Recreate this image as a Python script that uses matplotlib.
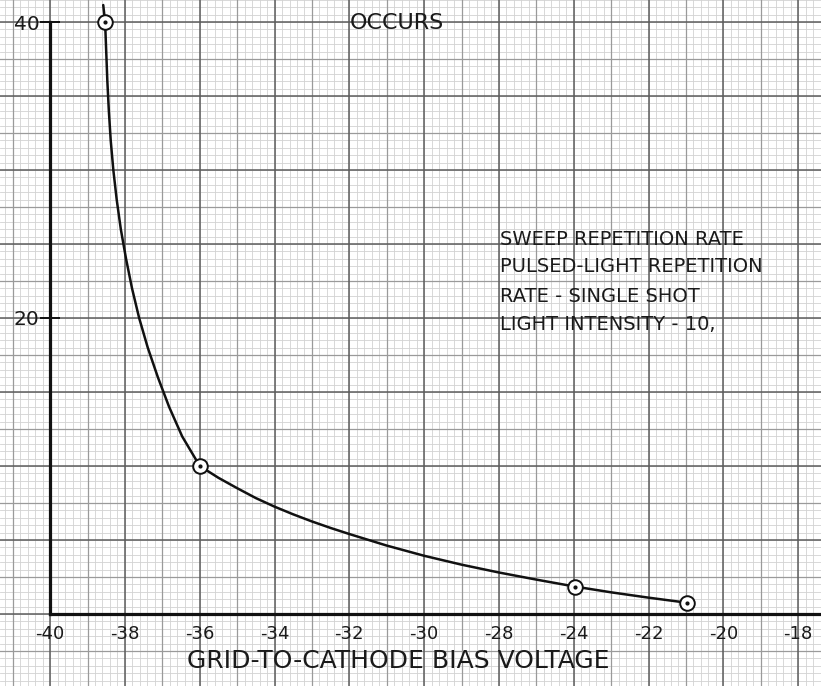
import numpy as np
import matplotlib
matplotlib.use("Agg")
import matplotlib.pyplot as plt

# Traced curve (grid units on the x axis, intensity scale on the y axis)
curve_x = [-38.58, -38.53, -38.50, -38.47, -38.43, -38.38, -38.31, -38.22,
           -38.11, -37.97, -37.81, -37.62, -37.39, -37.12, -36.82, -36.47,
           -36.00, -35.50, -35.00, -34.50, -34.00, -33.50, -33.00, -32.50,
           -32.00, -31.00, -30.00, -29.00, -28.00, -27.00, -25.97, -25.00,
           -24.00, -22.98]
curve_y = [41.15, 40.00, 38.00, 36.00, 34.00, 32.00, 30.00, 28.00,
           26.00, 24.00, 22.00, 20.00, 18.00, 16.00, 14.00, 12.00,
           10.00, 9.20, 8.50, 7.83, 7.25, 6.73, 6.25, 5.81,
           5.40, 4.62, 3.93, 3.33, 2.80, 2.32, 1.85, 1.46,
           1.10, 0.76]

# Measured points (circled)
point_x = [-38.53, -36.00, -25.97, -22.98]
point_y = [40.00, 10.00, 1.85, 0.76]

# Hand-lettered scale on the x axis
xtick_pos = [-40, -38, -36, -34, -32, -30, -28, -26, -24, -22, -20]
xtick_labels = ["-40", "-38", "-36", "-34", "-32", "-30", "-28", "-24", "-22", "-20", "-18"]
ytick_pos = [20, 40]
ytick_labels = ["20", "40"]

note_lines = ["SWEEP REPETITION RATE",
              "PULSED-LIGHT REPETITION",
              "RATE - SINGLE SHOT",
              "LIGHT INTENSITY - 10,"]

XMIN, XMAX = -41.34, -19.39
YMIN, YMAX = -4.87, 41.49

fig = plt.figure(figsize=(8.21, 6.86), dpi=100)
ax = fig.add_axes([0, 0, 1, 1])
ax.set_xlim(XMIN, XMAX)
ax.set_ylim(YMIN, YMAX)

# Graph-paper ruling: fine, half-division and main division lines
fine_col, mid_col, major_col = "#d2d2d2", "#9a9a9a", "#5c5c5c"
for xv in np.arange(-42, -18.9, 0.2):
    ax.axvline(xv, color=fine_col, lw=0.6, zorder=0)
for yv in np.arange(-5, 42.1, 0.5):
    ax.axhline(yv, color=fine_col, lw=0.6, zorder=0)
for xv in np.arange(-41, -18, 2):
    ax.axvline(xv, color=mid_col, lw=0.9, zorder=0.5)
for yv in np.arange(-2.5, 42, 5):
    ax.axhline(yv, color=mid_col, lw=0.9, zorder=0.5)
for xv in np.arange(-42, -18, 2):
    ax.axvline(xv, color=major_col, lw=1.1, zorder=0.6)
for yv in np.arange(-5, 42, 5):
    ax.axhline(yv, color=major_col, lw=1.1, zorder=0.6)

# Axes drawn as heavy lines through the origin corner
for side in ("top", "right"):
    ax.spines[side].set_visible(False)
ax.spines["left"].set_position(("data", -40))
ax.spines["bottom"].set_position(("data", 0))
ax.spines["left"].set_bounds(0, 40)
ax.spines["bottom"].set_bounds(-40, XMAX)
for side in ("left", "bottom"):
    ax.spines[side].set_linewidth(2.3)
    ax.spines[side].set_color("#111111")
    ax.spines[side].set_zorder(3)

ax.set_xticks(xtick_pos)
ax.set_xticklabels(xtick_labels)
ax.set_yticks(ytick_pos)
ax.set_yticklabels(ytick_labels)
ax.tick_params(axis="x", length=0, pad=8.3, labelsize=13, labelcolor="#1a1a1a")
ax.tick_params(axis="y", direction="inout", length=14.4, width=1.4,
               color="#111111", pad=0.5, labelsize=14.5, labelcolor="#1a1a1a")

# Response curve and measured points
ax.plot(curve_x, curve_y, color="#111111", lw=1.8, zorder=4,
        solid_capstyle="round", solid_joinstyle="round")
ax.plot(point_x, point_y, linestyle="none", marker="o", markersize=10.5,
        markerfacecolor="white", markeredgecolor="#111111",
        markeredgewidth=1.4, zorder=5)
ax.plot(point_x, point_y, linestyle="none", marker="o", markersize=2,
        color="#111111", zorder=6)

# Lettering
ax.text(-31.98, 39.5, "OCCURS", fontsize=16, color="#1a1a1a",
        ha="left", va="baseline", zorder=4)
note_y = [24.93, 23.11, 21.08, 19.19]
for txt, yv in zip(note_lines, note_y):
    ax.text(-27.97, yv, txt, fontsize=14, color="#1a1a1a",
            ha="left", va="baseline", zorder=4)
ax.text(-30.69, -3.65, "GRID-TO-CATHODE BIAS VOLTAGE", fontsize=18,
        color="#1a1a1a", ha="center", va="baseline", zorder=4)

fig.savefig("out.png", dpi=100)
